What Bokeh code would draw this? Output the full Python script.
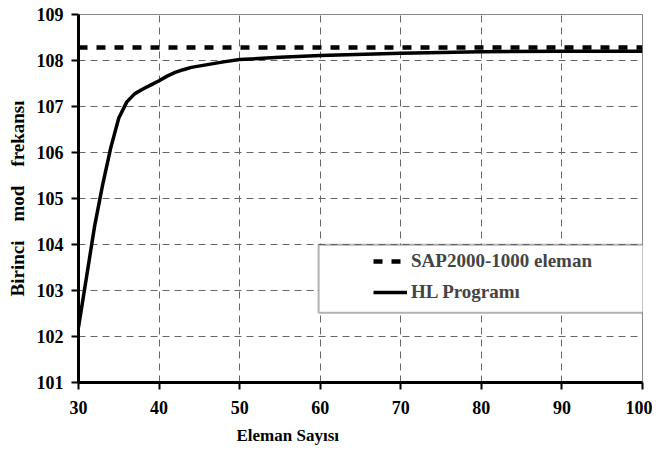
from bokeh.plotting import figure
from bokeh.models import Range1d, FixedTicker, Legend, LegendItem, BoxAnnotation, Title
from bokeh.embed import file_html
from bokeh.resources import INLINE

# Data
hl_x = [30, 31, 32, 33, 34, 35, 36, 37, 38, 39, 40, 41, 42, 43, 44, 46, 48, 50, 55, 60, 70, 80, 90, 100]
hl_y = [102.2, 103.3, 104.4, 105.3, 106.1, 106.75, 107.1, 107.28, 107.38, 107.47, 107.56, 107.66,
        107.74, 107.80, 107.85, 107.91, 107.97, 108.02, 108.07, 108.11, 108.16, 108.19, 108.20, 108.20]
sap_x = [30, 100]
sap_y = [108.28, 108.28]
x_ticks = [30, 40, 50, 60, 70, 80, 90, 100]
y_ticks = [101, 102, 103, 104, 105, 106, 107, 108, 109]
x_title = "Eleman Sayısı"
y_title = "Birinci\u00a0\u00a0\u00a0\u00a0mod\u00a0\u00a0\u00a0\u00a0frekansı"

FONT = "Liberation Serif"

p = figure(frame_width=564, frame_height=368, output_backend="svg", toolbar_location=None,
           x_range=Range1d(30, 100), y_range=Range1d(101, 109),
           min_border_left=78, min_border_top=14, min_border_right=10, min_border_bottom=20)
p.background_fill_color = "white"
p.border_fill_color = "white"
p.outline_line_color = "#888888"
p.outline_line_width = 1

for ax in (p.xaxis[0], p.yaxis[0]):
    ax.axis_line_width = 3
    ax.axis_line_color = "black"
    ax.major_tick_line_width = 2
    ax.major_tick_line_color = "black"
    ax.major_tick_out = 7
    ax.major_tick_in = 0
    ax.minor_tick_out = 0
    ax.minor_tick_in = 0
    ax.major_label_text_font = FONT
    ax.major_label_text_font_style = "bold"
    ax.major_label_text_font_size = "18px"
    ax.major_label_text_color = "black"
    ax.axis_label_text_font = FONT
    ax.axis_label_text_font_style = "bold"
    ax.axis_label_text_font_size = "19px"
    ax.axis_label_text_color = "black"

p.xaxis.ticker = FixedTicker(ticks=x_ticks)
p.yaxis.ticker = FixedTicker(ticks=y_ticks)
p.yaxis.axis_label = y_title
p.xaxis.major_label_standoff = 11
p.yaxis.major_label_standoff = 8
p.yaxis.axis_label_standoff = 6

for g in (p.xgrid[0], p.ygrid[0]):
    g.grid_line_color = "#666666"
    g.grid_line_width = 1
    g.grid_line_dash = "7 5"

r_sap = p.line(sap_x, sap_y, line_color="black", line_width=4.5, line_dash="9 9")
r_hl = p.line(hl_x, hl_y, line_color="black", line_width=3.5)

box = BoxAnnotation(left=59.8, right=100.2, bottom=102.515, top=103.994,
                    fill_color="white", fill_alpha=1.0, line_color="black", line_width=2)
p.add_layout(box)

legend = Legend(items=[LegendItem(label="SAP2000-1000 eleman", renderers=[r_sap]),
                       LegendItem(label="HL Programı", renderers=[r_hl])],
                location=(295, 79), padding=0, spacing=9, glyph_width=34, glyph_height=20,
                label_height=20, label_standoff=4,
                label_text_font=FONT, label_text_font_style="bold", label_text_font_size="19px",
                border_line_alpha=0, background_fill_alpha=0)
p.add_layout(legend)

xt = Title(text=x_title, align="left", offset=158, standoff=14,
           text_font=FONT, text_font_style="bold", text_font_size="17px", text_color="black")
p.add_layout(xt, "below")

open("out.html", "w").write(file_html(p, INLINE))
